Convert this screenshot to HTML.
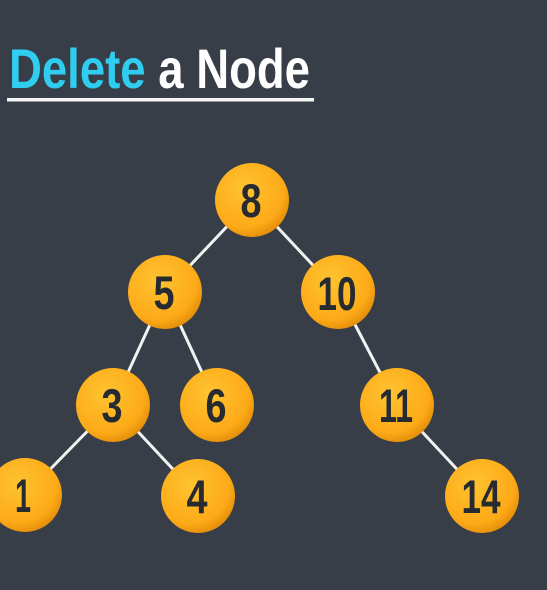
<!DOCTYPE html>
<html><head><meta charset="utf-8"><style>
html,body{margin:0;padding:0;width:547px;height:590px;overflow:hidden;background:#383e48}
</style></head><body>
<svg width="547" height="590" xmlns="http://www.w3.org/2000/svg">
<defs>
<radialGradient id="g" cx="0.4" cy="0.35" r="0.7">
<stop offset="0" stop-color="#ffc330"/>
<stop offset="0.75" stop-color="#fdaa18"/>
<stop offset="1" stop-color="#e08a08"/>
</radialGradient>
</defs>
<rect width="547" height="590" fill="#383e48"/>
<text x="9" y="88" font-family="Liberation Sans Narrow, Liberation Sans, sans-serif" font-weight="bold" font-size="56" textLength="301" lengthAdjust="spacingAndGlyphs"><tspan fill="#2fcdf0">Delete</tspan><tspan fill="#ffffff"> a Node</tspan></text>
<rect x="7" y="98" width="307" height="3.5" fill="#f4f4f4"/>
<g stroke="#f2f2f2" stroke-width="3">
<line x1="252" y1="200" x2="165" y2="292"/>
<line x1="252" y1="200" x2="338" y2="292"/>
<line x1="165" y1="292" x2="113" y2="405"/>
<line x1="165" y1="292" x2="217" y2="405"/>
<line x1="338" y1="292" x2="397" y2="405"/>
<line x1="113" y1="405" x2="25" y2="495"/>
<line x1="113" y1="405" x2="198" y2="496"/>
<line x1="397" y1="405" x2="482" y2="496"/>
</g>
<g font-family="Liberation Sans Narrow, Liberation Sans, sans-serif" font-weight="bold" font-size="47" fill="#262a31" text-anchor="middle" lengthAdjust="spacingAndGlyphs">
<circle cx="252" cy="200" r="37" fill="url(#g)"/><text x="251" y="217" textLength="21" lengthAdjust="spacingAndGlyphs">8</text>
<circle cx="165" cy="292" r="37" fill="url(#g)"/><text x="164" y="309" textLength="21" lengthAdjust="spacingAndGlyphs">5</text>
<circle cx="338" cy="292" r="37" fill="url(#g)"/><text x="337" y="310" textLength="39" lengthAdjust="spacingAndGlyphs">10</text>
<circle cx="113" cy="405" r="37" fill="url(#g)"/><text x="112" y="422" textLength="21" lengthAdjust="spacingAndGlyphs">3</text>
<circle cx="217" cy="405" r="37" fill="url(#g)"/><text x="216" y="422" textLength="21" lengthAdjust="spacingAndGlyphs">6</text>
<circle cx="397" cy="405" r="37" fill="url(#g)"/><text x="396" y="422" textLength="34" lengthAdjust="spacingAndGlyphs">11</text>
<circle cx="25" cy="495" r="37" fill="url(#g)"/><text x="23" y="512" textLength="16" lengthAdjust="spacingAndGlyphs">1</text>
<circle cx="198" cy="496" r="37" fill="url(#g)"/><text x="197" y="513" textLength="21" lengthAdjust="spacingAndGlyphs">4</text>
<circle cx="482" cy="496" r="37" fill="url(#g)"/><text x="481" y="513" textLength="39" lengthAdjust="spacingAndGlyphs">14</text>
</g>
</svg>
</body></html>
